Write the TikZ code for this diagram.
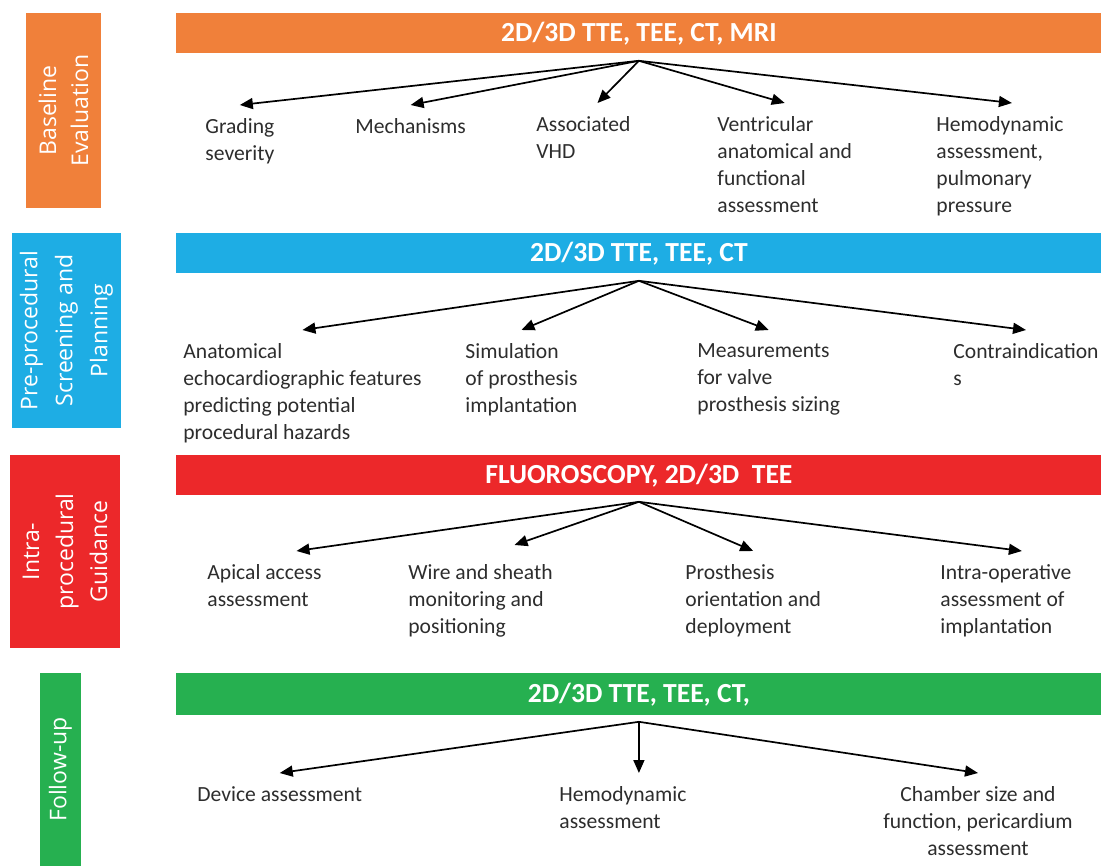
\documentclass[tikz,border=0pt]{standalone}
\usepackage{fontspec}
\setmainfont{Carlito}
\newfontfamily\sidefont{Open Sans}
\usepackage{xcolor}
\usetikzlibrary{arrows.meta}
\definecolor{baseorange}{RGB}{240,128,58}
\definecolor{preblue}{RGB}{30,173,228}
\definecolor{intrared}{RGB}{236,40,42}
\definecolor{followgreen}{RGB}{38,176,80}
\definecolor{textgray}{RGB}{45,45,45}

\begin{document}
\begin{tikzpicture}[
  x=0.5pt, y=-0.5pt,
  phase/.style={rectangle,rotate=90,align=center,text=white,inner sep=0pt,font=\sidefont\fontsize{11.5}{16}\selectfont},
  tool/.style={rectangle,anchor=north west,minimum width=462.5pt,minimum height=20pt,inner sep=0pt,text=white,font=\bfseries\fontsize{13.8}{15}\selectfont},
  item/.style={anchor=north west,align=left,inner xsep=0pt,inner ysep=6.5pt,text=textgray,font=\fontsize{10.8}{13.5}\selectfont},
  arr/.style={-{Triangle[length=6.5pt,width=5.5pt]},line width=0.85pt}
]
\useasboundingbox (0,0) rectangle (1101,866);

% phases on the left
\node[phase,fill=baseorange,minimum width=97.5pt,minimum height=37.5pt] (phaseA) at (63.5,110.5) {Baseline\\Evaluation};
\node[phase,fill=preblue,minimum width=97.5pt,minimum height=54.5pt,font=\sidefont\fontsize{11.5}{17.5}\selectfont] (phaseB) at (66.5,330.5) {Pre-procedural\\Screening and\\Planning};
\node[phase,fill=intrared,minimum width=96.5pt,minimum height=55pt,font=\sidefont\fontsize{11.5}{17}\selectfont] (phaseC) at (65,551.5) {Intra-\\procedural\\Guidance};
\node[phase,fill=followgreen,minimum width=96.5pt,minimum height=20.5pt] (phaseD) at (60.5,769.5) {Follow-up};

% imaging bars
\node[tool,fill=baseorange] (toolA) at (176,13) {2D/3D TTE, TEE, CT, MRI};
\node[tool,fill=preblue] (toolB) at (176,233) {2D/3D TTE, TEE, CT};
\node[tool,fill=intrared] (toolC) at (176,455) {FLUOROSCOPY, 2D/3D\ \ TEE};
\node[tool,fill=followgreen,minimum height=21pt] (toolD) at (176,673) {2D/3D TTE, TEE, CT,};

\coordinate (hubA) at ([yshift=-3.5pt]toolA.south);
\coordinate (hubB) at ([yshift=-3.5pt]toolB.south);
\coordinate (hubC) at ([yshift=-3pt]toolC.south);
\coordinate (hubD) at ([yshift=-3pt]toolD.south);

% baseline
\node[item] (gradA) at (205,105) {Grading\\severity};
\node[item] (mechA) at (355,105) {Mechanisms};
\node[item] (vhdA) at (536,103) {Associated\\VHD};
\node[item] (ventA) at (717,103) {Ventricular\\anatomical and\\functional\\assessment};
\node[item] (hemoA) at (936,103) {Hemodynamic\\assessment,\\pulmonary\\pressure};

% pre-procedural
\node[item] (anatB) at (183,330) {Anatomical\\echocardiographic features\\predicting potential\\procedural hazards};
\node[item] (simB) at (465,330) {Simulation\\of prosthesis\\implantation};
\node[item] (measB) at (697,330) {Measurements\\for valve\\prosthesis sizing};
\node[item] (contraB) at (953,330) {Contraindication\\s};

% intra-procedural
\node[item] (apicC) at (207,551) {Apical access\\assessment};
\node[item] (wireC) at (408,551) {Wire and sheath\\monitoring and\\positioning};
\node[item] (prosC) at (685,551) {Prosthesis\\orientation and\\deployment};
\node[item] (intraC) at (940,551) {Intra-operative\\assessment of\\implantation};

% follow-up
\node[item] (devD) at (197,773) {Device assessment};
\node[item] (hemoD) at (559,773) {Hemodynamic\\assessment};
\node[item,anchor=north,align=center] (chamD) at (978,773) {Chamber size and\\function, pericardium\\assessment};

\draw[arr] (hubA) -- (gradA.north);
\draw[arr] (hubA) -- (mechA.north);
\draw[arr] (hubA) -- ([xshift=7pt]vhdA.north);
\draw[arr] (hubA) -- (ventA.north);
\draw[arr] (hubA) -- ([xshift=6pt]hemoA.north);

\draw[arr] (hubB) -- (anatB.north);
\draw[arr] (hubB) -- (simB.north);
\draw[arr] (hubB) -- (measB.north);
\draw[arr] (hubB) -- (contraB.north);

\draw[arr] (hubC) -- ([xshift=16pt]apicC.north);
\draw[arr] (hubC) -- ([xshift=17pt,yshift=3pt]wireC.north);
\draw[arr] (hubC) -- (prosC.north);
\draw[arr] (hubC) -- ([xshift=8pt]intraC.north);

\draw[arr] (hubD) -- (devD.north);
\draw[arr] (hubD) -- (hubD |- hemoD.north);
\draw[arr] (hubD) -- (chamD.north);
\end{tikzpicture}
\end{document}
